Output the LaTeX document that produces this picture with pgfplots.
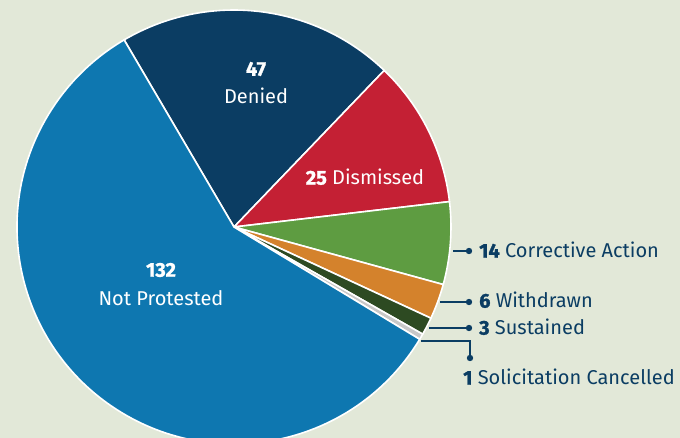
\documentclass[border=0pt]{standalone}
\usepackage{pgfplots}
\pgfplotsset{compat=1.18}
\usepackage{fontspec}
\setmainfont{Fira Sans}[BoldFeatures={FakeBold=1.2}]
\definecolor{bg}{HTML}{E2E8D8}
\definecolor{navy}{HTML}{0B3D63}
\definecolor{cNot}{HTML}{0E77B0}
\definecolor{cDen}{HTML}{0B3D63}
\definecolor{cDis}{HTML}{C42034}
\definecolor{cCor}{HTML}{5E9C41}
\definecolor{cWit}{HTML}{D4822C}
\definecolor{cSus}{HTML}{2D4A22}
\definecolor{cSol}{HTML}{C8C8C8}
\begin{document}
\begin{tikzpicture}[font=\fontsize{20bp}{23bp}\selectfont]
\fill[bg] (0,0) rectangle (680bp,438bp);
\begin{axis}[
    width=680bp, height=438bp, scale only axis,
    xmin=0, xmax=680, ymin=0, ymax=438,
    y dir=reverse, hide axis, clip=true,
  ]
  % protest outcomes, clockwise from the Denied slice; total 228
  \pgfplotsextra{
    \def\acc{120.4}
    \foreach \v/\c in {47/cDen,25/cDis,14/cCor,6/cWit,3/cSus,1/cSol,132/cNot}{
      \pgfmathsetmacro\a{\acc}
      \pgfmathsetmacro\b{\acc-\v/228*360}
      \fill[\c, draw=white, line width=1.6bp, line join=round]
        (axis cs:234,227) -- ++(\a:217bp) arc[start angle=\a, end angle=\b, radius=217bp] -- cycle;
      \global\let\acc\b
    }
  }
  % labels inside
  \node[white] at (axis cs:256,69) {\bfseries 47};
  \node[white] at (axis cs:256,96) {Denied};
  \node[white] at (axis cs:365,177) {\textbf{25} Dismissed};
  \node[white] at (axis cs:161,270) {\bfseries 132};
  \node[white] at (axis cs:161,298) {Not Protested};
  % callouts
  \draw[navy, line width=1.8bp] (axis cs:453,251) -- (axis cs:469,251);
  \fill[navy] (axis cs:469,251) circle[radius=3.2bp];
  \node[navy, anchor=west, inner sep=0pt] at (axis cs:479,250) {\textbf{14} Corrective Action};
  \draw[navy, line width=1.8bp] (axis cs:440,302) -- (axis cs:469,302);
  \fill[navy] (axis cs:469,302) circle[radius=3.2bp];
  \node[navy, anchor=west, inner sep=0pt] at (axis cs:479,300) {\textbf{6} Withdrawn};
  \draw[navy, line width=1.8bp] (axis cs:429,328) -- (axis cs:469,328);
  \fill[navy] (axis cs:469,328) circle[radius=3.2bp];
  \node[navy, anchor=west, inner sep=0pt] at (axis cs:479,327) {\textbf{3} Sustained};
  \draw[navy, line width=1.8bp] (axis cs:421,341) -- (axis cs:470,341) -- (axis cs:470,358);
  \fill[navy] (axis cs:470,358) circle[radius=3.2bp];
  \node[navy, anchor=west, inner sep=0pt] at (axis cs:463,377) {\textbf{1} Solicitation Cancelled};
\end{axis}
\pgfresetboundingbox
\useasboundingbox (0,0) rectangle (680bp,438bp);
\end{tikzpicture}
\end{document}
